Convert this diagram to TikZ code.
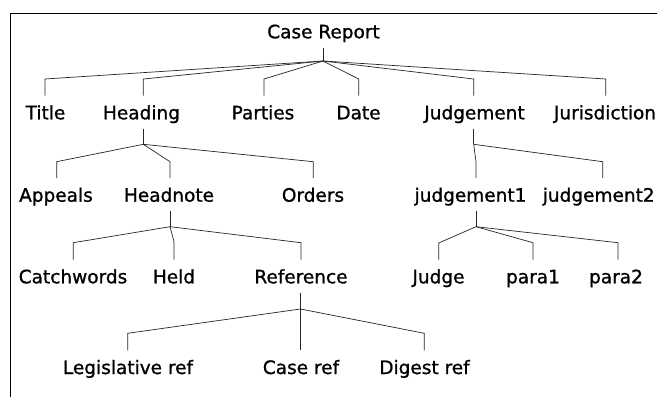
\documentclass[tikz,border=0pt]{standalone}
\usepackage{fontspec}
\newfontfamily\lbfont[FakeBold=1]{DejaVu Sans}
\usetikzlibrary{calc}
\begin{document}
\begin{tikzpicture}[x=1pt,y=-1pt,
  lbl/.style={font=\lbfont\fontsize{18.5}{22}\selectfont, text=black, inner xsep=0pt, inner ysep=9pt, text height=14.5pt, text depth=0pt, anchor=base},
  edge/.style={draw=black!85, line width=0.7pt, line join=miter},
  frameline/.style={draw=black, line width=1.3pt}]
\useasboundingbox (0,0) rectangle (657,397);
\fill[white] (0,0) rectangle (657,397);
\draw[frameline] (657,13.5) -- (10.5,13.5) -- (10.5,397);

% nodes (placed by baseline)
\node[lbl] (cr) at (323.5,38.3) {Case Report};
\node[lbl] (title) at (45.5,119.3) {Title};
\node[lbl] (heading) at (141.5,119.3) {Heading};
\node[lbl] (parties) at (263,119.3) {Parties};
\node[lbl] (date) at (358.5,119.3) {Date};
\node[lbl] (judgement) at (474.5,119.3) {Judgement};
\node[lbl] (juris) at (605,119.3) {Jurisdiction};
\node[lbl] (appeals) at (56,201.7) {Appeals};
\node[lbl] (headnote) at (169,201.7) {Headnote};
\node[lbl] (orders) at (313,201.7) {Orders};
\node[lbl] (jdg1) at (470.5,201.7) {judgement1};
\node[lbl] (jdg2) at (598.7,201.7) {judgement2};
\node[lbl] (catch) at (73,283.3) {Catchwords};
\node[lbl] (held) at (174,283.3) {Held};
\node[lbl] (ref) at (301,283.3) {Reference};
\node[lbl] (judge) at (438.5,283.3) {Judge};
\node[lbl] (para1) at (533,283.3) {para1};
\node[lbl] (para2) at (616,283.3) {para2};
\node[lbl] (legref) at (128,374) {Legislative ref};
\node[lbl] (caseref) at (301,374) {Case ref};
\node[lbl] (digref) at (424.5,374) {Digest ref};

% junctions and bends
\coordinate (jcr) at (323,61);
\coordinate (btitle) at (45,79);
\coordinate (bheading) at (143.3,79);
\coordinate (bparties) at (264,79);
\coordinate (bdate) at (358.7,79);
\coordinate (bjudgement) at (473.7,79);
\coordinate (bjuris) at (605.7,79);

\coordinate (jheading) at (143.3,144.3);
\coordinate (bappeals) at (56.7,161.7);
\coordinate (bheadnote) at (170,161.7);
\coordinate (borders) at (313.3,161.7);

\coordinate (jjudgement) at (473.7,144.3);
\coordinate (bjdg1) at (476,161.7);
\coordinate (bjdg2) at (602.7,161.7);

\coordinate (jheadnote) at (170,226.7);
\coordinate (bcatch) at (73.3,242.7);
\coordinate (bheld) at (174,241.7);
\coordinate (bref) at (301,242.7);

\coordinate (jjdg1) at (476,226.7);
\coordinate (bjudge) at (438.7,243);
\coordinate (bpara1) at (533,242.7);
\coordinate (bpara2) at (618,242.7);

\coordinate (jref) at (300.5,309);
\coordinate (blegref) at (127.7,333.3);
\coordinate (bcaseref) at (300.5,333.3);
\coordinate (bdigref) at (424.3,333.3);

% Case Report
\draw[edge] (jcr |- cr.south) -- (jcr);
\draw[edge] (jcr) -- (btitle) -- (btitle |- title.north);
\draw[edge] (jcr) -- (bheading) -- (bheading |- heading.north);
\draw[edge] (jcr) -- (bparties) -- (bparties |- parties.north);
\draw[edge] (jcr) -- (bdate) -- (bdate |- date.north);
\draw[edge] (jcr) -- (bjudgement) -- (bjudgement |- judgement.north);
\draw[edge] (jcr) -- (bjuris) -- (bjuris |- juris.north);

% Heading
\draw[edge] (jheading |- heading.south) -- (jheading);
\draw[edge] (jheading) -- (bappeals) -- (bappeals |- appeals.north);
\draw[edge] (jheading) -- (bheadnote) -- (bheadnote |- headnote.north);
\draw[edge] (jheading) -- (borders) -- (borders |- orders.north);

% Judgement
\draw[edge] (jjudgement |- judgement.south) -- (jjudgement);
\draw[edge] (jjudgement) -- (bjdg1) -- (bjdg1 |- jdg1.north);
\draw[edge] (jjudgement) -- (bjdg2) -- (bjdg2 |- jdg2.north);

% Headnote
\draw[edge] (jheadnote |- headnote.south) -- (jheadnote);
\draw[edge] (jheadnote) -- (bcatch) -- (bcatch |- catch.north);
\draw[edge] (jheadnote) -- (bheld) -- (bheld |- held.north);
\draw[edge] (jheadnote) -- (bref) -- (bref |- ref.north);

% judgement1
\draw[edge] (jjdg1 |- jdg1.south) -- (jjdg1);
\draw[edge] (jjdg1) -- (bjudge) -- (bjudge |- judge.north);
\draw[edge] (jjdg1) -- (bpara1) -- (bpara1 |- para1.north);
\draw[edge] (jjdg1) -- (bpara2) -- (bpara2 |- para2.north);

% Reference
\draw[edge] (jref |- ref.south) -- (jref);
\draw[edge] (jref) -- (blegref) -- (blegref |- legref.north);
\draw[edge] (jref) -- (bcaseref) -- (bcaseref |- caseref.north);
\draw[edge] (jref) -- (bdigref) -- (bdigref |- digref.north);
\end{tikzpicture}
\end{document}
